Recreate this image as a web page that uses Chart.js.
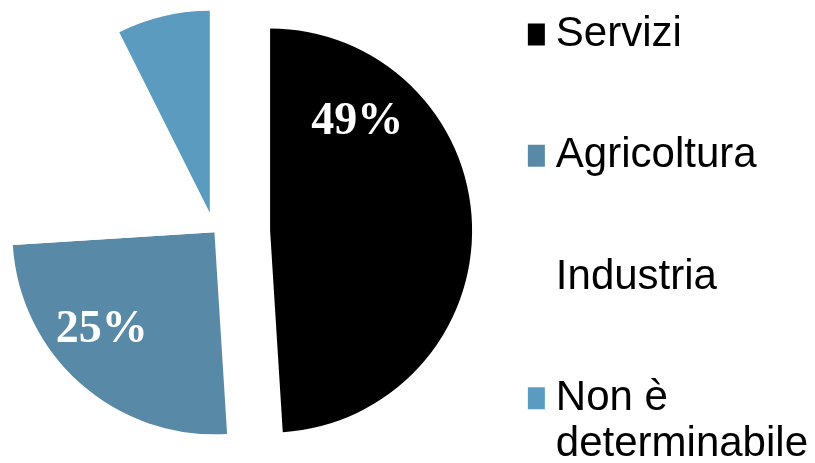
<!DOCTYPE html>
<html>
<head>
<meta charset="utf-8">
<script src="https://cdn.jsdelivr.net/npm/chart.js@4.4.1/dist/chart.umd.min.js"></script>
<style>
  html, body { margin: 0; padding: 0; background: #ffffff; overflow: hidden; width: 815px; height: 463px; }
  /* the pie sits left of centre: the canvas extends past the left edge of the page */
  #wrap { width: 917px; height: 463px; position: relative; margin-left: -99px; }
</style>
</head>
<body>
<div id="wrap"><canvas id="c"></canvas></div>
<script>
// ---- data ----
const categories = ['Servizi', 'Agricoltura', 'Industria', 'Non è determinabile'];
const shares = [49, 25, 18.6, 7.4];
const sliceColors = ['#000000', '#5889A7', '#FFFFFF', '#5B9BC0'];

const LEGEND_FONT = { family: "'Liberation Sans', Arial, sans-serif", size: 42, lineHeight: '23.25px' };

// greedy word wrap of a legend label
function wrapLabel(text, maxWidth) {
  const c = document.createElement('canvas').getContext('2d');
  c.font = LEGEND_FONT.size + 'px ' + LEGEND_FONT.family;
  const words = text.split(' ');
  const lines = [];
  let cur = '';
  words.forEach(w => {
    const t = cur ? cur + ' ' + w : w;
    if (cur && c.measureText(t).width > maxWidth) { lines.push(cur); cur = w; }
    else cur = t;
  });
  if (cur) lines.push(cur);
  return lines;
}

// moves exploded slices outwards along their bisector
const explodePlugin = {
  id: 'explode',
  afterDatasetUpdate(chart, args, opts) {
    const d = opts.distance || [];
    args.meta.data.forEach((arc, i) => {
      const dist = d[i] || 0;
      if (!dist) return;
      const mid = (arc.startAngle + arc.endAngle) / 2;
      arc.x += Math.cos(mid) * dist;
      arc.y += Math.sin(mid) * dist;
    });
  }
};

// percentage labels inside the slices
const sliceLabels = {
  id: 'sliceLabels',
  afterDatasetsDraw(chart, args, opts) {
    const meta = chart.getDatasetMeta(0);
    const ctx = chart.ctx;
    const total = shares.reduce((a, b) => a + b, 0);
    ctx.save();
    ctx.font = opts.font;
    ctx.fillStyle = opts.color;
    ctx.textAlign = 'center';
    ctx.textBaseline = 'middle';
    meta.data.forEach((arc, i) => {
      const p = opts.place[i];
      if (!p) return;
      const a = arc.startAngle + p[0] * (arc.endAngle - arc.startAngle);
      const r = p[1] * arc.outerRadius;
      ctx.fillText(Math.round(shares[i] / total * 100) + '%', arc.x + Math.cos(a) * r, arc.y + Math.sin(a) * r);
    });
    ctx.restore();
  }
};

new Chart(document.getElementById('c'), {
  type: 'pie',
  data: {
    labels: categories,
    datasets: [{
      data: shares,
      backgroundColor: sliceColors,
      borderWidth: 0,
      hoverOffset: 0
    }]
  },
  options: {
    responsive: true,
    maintainAspectRatio: false,
    animation: false,
    events: [],
    radius: 202,
    layout: { padding: { left: 0, right: 0, top: 8.5, bottom: 6.9 } },
    plugins: {
      tooltip: { enabled: false },
      explode: { distance: [55.7, 0, 0, 20] },
      sliceLabels: {
        font: "bold 46px 'Liberation Serif', 'Times New Roman', serif",
        color: '#ffffff',
        place: [[0.2205, 0.687], [0.586, 0.738], null, [1.034, 1.054]]
      },
      legend: {
        position: 'right',
        align: 'start',
        labels: {
          font: LEGEND_FONT,
          color: '#000000',
          usePointStyle: true,
          pointStyle: 'rect',
          boxWidth: 2,
          boxHeight: 22,
          padding: 5,
          generateLabels(chart) {
            const base = Chart.overrides.pie.plugins.legend.labels.generateLabels(chart);
            const n = base.length;
            return base.map((item, i) => {
              const lines = wrapLabel(categories[i], 258);
              const out = [];
              lines.forEach((l, k) => { if (k) out.push(''); out.push(l); });
              if (i < n - 1) while (out.length < 5) out.push('');
              item.text = out;
              item.pointStyle = 'rect';
              return item;
            });
          }
        }
      }
    }
  },
  plugins: [explodePlugin, sliceLabels]
});
</script>
</body>
</html>
